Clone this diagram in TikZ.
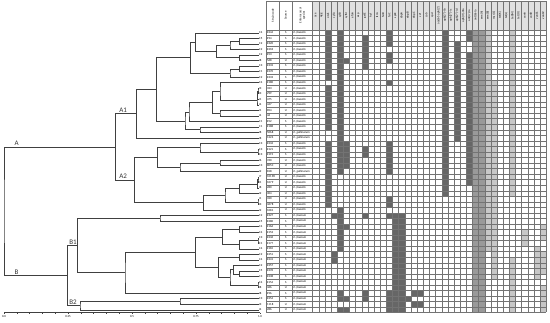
\documentclass[tikz,border=0pt]{standalone}
\usepackage{fontspec}
\setmainfont{Carlito}
\usetikzlibrary{calc}
\newcommand\mrg[4]{%
  \path let \p1=($(#3)!0.5!(#4)$) in coordinate (#1) at (#2pt,\y1);
  \draw[tree] (#3) -| (#1) |- (#4);}
\newcommand\cw{6.15}
\newcommand\blk[4]{\fill[#4] ({312.5+(#1-1)*\cw},{293-(#2-1)*5.54}) rectangle ({312.5+#1*\cw},{293-#3*5.54});}
\begin{document}
\begin{tikzpicture}[x=1pt,y=1pt,
  tree/.style={draw=black!75,line width=0.45pt},
  grid/.style={draw=black!55,line width=0.3pt},
  dk/.style={fill=black!60},
  md/.style={fill=black!40},
  lt/.style={fill=black!22},
  hdr/.style={fill=black!12},
  tiny/.style={font=\fontsize{3}{3.4}\selectfont,inner sep=0pt},
  cl/.style={font=\fontsize{7}{8}\selectfont,inner sep=0.5pt,text=black!80}]
\useasboundingbox (0,0) rectangle (550,323);
% leaves
\foreach \i in {1,...,51} \coordinate (L\i) at (258.5,{293-(\i-0.5)*5.54});
% ---- cluster A1
\mrg{m1}{239.3}{L2}{L3}
\mrg{m2}{230}{m1}{L4}
\mrg{m3}{239.3}{L5}{L6}
\mrg{m4}{216.7}{m2}{m3}
\mrg{m5}{195.7}{L1}{m4}
\mrg{m6}{239.3}{L7}{L8}
\mrg{m7}{230}{m6}{L9}
\mrg{m8}{190.7}{m5}{m7}
\mrg{z1}{258}{L11}{L12}
\mrg{z2}{257.5}{z1}{L13}
\mrg{z3}{257}{z2}{L14}
\mrg{m9}{220}{L10}{z3}
\mrg{m10}{220}{L15}{L16}
\mrg{m11}{212.3}{m9}{m10}
\mrg{m12}{189}{m11}{L17}
\mrg{m13}{200}{L18}{L19}
\mrg{m14}{185}{m12}{m13}
\mrg{m15}{156.7}{m8}{m14}
\mrg{nA1}{136.7}{m15}{L20}
% ---- cluster A2
\mrg{z4}{258}{L22}{L23}
\mrg{m16}{200}{L21}{z4}
\mrg{m17}{220}{L24}{L25}
\mrg{m18}{180}{m17}{L26}
\mrg{m19}{157.3}{m16}{m18}
\mrg{z5}{258}{L27}{L28}
\mrg{z6}{257.5}{z5}{L29}
\mrg{m20}{239.3}{z6}{L30}
\mrg{z7}{258}{L31}{L32}
\mrg{m21}{225}{m20}{z7}
\mrg{m22}{203.3}{m21}{L33}
\mrg{nA2}{134.3}{m19}{m22}
\mrg{nA}{115.7}{nA1}{nA2}
% ---- cluster B
\mrg{m23}{160}{L34}{L35}
\mrg{m24}{239.3}{L36}{L37}
\mrg{z8}{258}{L38}{L39}
\mrg{m25}{239.3}{z8}{L40}
\mrg{m26}{222.7}{m24}{m25}
\mrg{m27}{239.3}{L41}{L42}
\mrg{m28}{239.3}{L44}{L45}
\mrg{m29}{233.3}{L43}{m28}
\mrg{z9}{258}{L46}{L47}
\mrg{m30}{230}{m29}{z9}
\mrg{m31}{218.3}{m27}{m30}
\mrg{m32}{195.7}{m26}{m31}
\mrg{m33}{125}{m32}{L48}
\mrg{nB1}{77.7}{m23}{m33}
\mrg{m34}{180}{L49}{L50}
\mrg{nB2}{80}{m34}{L51}
\mrg{nB}{67.7}{nB1}{nB2}
\mrg{root}{4}{nA}{nB}
% cluster labels
\node[cl,anchor=south west] (tA) at ($(root |- nA)+(10,0.6)$) {A};
\node[cl,anchor=south west] (tB) at ($(root |- nB)+(10,0.6)$) {B};
\node[cl,anchor=south west] (tA1) at ($(nA |- nA1)+(3,0.6)$) {A1};
\node[cl,anchor=south west] (tA2) at ($(nA |- nA2)+(3,0.6)$) {A2};
\node[cl,anchor=south west] (tB1) at ($(nB |- nB1)+(1,0.6)$) {B1};
\node[cl,anchor=south west] (tB2) at ($(nB |- nB2)+(1,0.6)$) {B2};
% axis
\coordinate (ax0) at (4,10.3);
\coordinate (ax1) at (260,10.3);
\draw[tree] (ax0) -- (ax1);
\foreach \k in {0,...,20} \draw[tree,line width=0.3pt] ({4+\k*12.8},10.3) -- ({4+\k*12.8},8.8);
\foreach \k/\lab in {0/0.0,1/0.25,2/0.5,3/0.75,4/1.0}
  \node[tiny,anchor=north] (ax\k t) at ({4+\k*64},7.5) {\lab};
% table header fill
\fill[hdr] (312.5,293) rectangle ({312.5+38*\cw},322);
% data blocks
\blk{3}{1}{9}{dk}\blk{3}{11}{18}{dk}\blk{3}{21}{32}{dk}
\blk{4}{34}{34}{dk}\blk{4}{41}{42}{dk}
\blk{5}{1}{26}{dk}\blk{5}{33}{40}{dk}\blk{5}{48}{49}{dk}\blk{5}{51}{51}{dk}
\blk{6}{6}{6}{dk}\blk{6}{21}{25}{dk}\blk{6}{36}{36}{dk}\blk{6}{49}{49}{dk}\blk{6}{51}{51}{dk}
\blk{9}{2}{7}{dk}\blk{9}{22}{23}{dk}\blk{9}{34}{34}{dk}\blk{9}{48}{49}{dk}
\blk{13}{1}{3}{dk}\blk{13}{5}{6}{dk}\blk{13}{10}{10}{dk}\blk{13}{21}{26}{dk}
\blk{13}{31}{32}{dk}\blk{13}{34}{34}{dk}\blk{13}{48}{51}{dk}
\blk{14}{34}{51}{dk}\blk{15}{34}{51}{dk}
\blk{16}{49}{49}{dk}\blk{17}{48}{48}{dk}\blk{18}{48}{48}{dk}\blk{17}{50}{50}{dk}\blk{18}{50}{50}{dk}
\blk{22}{1}{30}{dk}\blk{24}{3}{20}{dk}\blk{26}{1}{2}{dk}\blk{26}{5}{28}{dk}
\blk{27}{1}{51}{md}\blk{28}{1}{51}{md}
\blk{29}{1}{40}{lt}\blk{30}{10}{45}{lt}\blk{33}{1}{30}{lt}
\blk{33}{42}{51}{lt}\blk{35}{37}{39}{lt}\blk{37}{40}{45}{lt}
\blk{38}{36}{38}{lt}\blk{38}{41}{44}{lt}\blk{38}{47}{51}{lt}
% grid
\foreach \k in {0,...,38} \draw[grid] ({312.5+\k*\cw},322) -- ({312.5+\k*\cw},10.5);
\foreach \xx in {266,279.5,292} \draw[grid] (\xx,322) -- (\xx,10.5);
\foreach \r in {0,...,51} \draw[grid] (266,{293-\r*5.54}) -- ({312.5+38*\cw},{293-\r*5.54});
\draw[grid] (266,322) -- ({312.5+38*\cw},322);
% header texts
\node[tiny,rotate=90] (h1) at (272.75,307.5) {Strain code};
\node[tiny,rotate=90] (h2) at (285.75,307.5) {Source};
\node[tiny,rotate=90,align=center] (h3) at (302.25,307.5) {Enterococcal\\species};
\foreach \g [count=\k] in {ace,agg,asa1,cylA,cylB,cylM,efaA,esp,gelE,hyl,fsrA,fsrB,fsrC,sprE,ebpA,ebpB,ebpC,ccf,cob,cpd,aac(6')-aph(2'),aph(2'')-Ib,aph(2'')-Ic,aph(2'')-Id,aph(3')-IIIa,ant(4')-Ia,ant(6)-Ia,erm(A),erm(B),msr(C),tet(K),tet(L),tet(M),tet(O),vanA,vanB,vanC1,vanC2}
  \node[tiny,rotate=90] (g\k) at ({312.5+(\k-0.5)*\cw},307.5) {\g};
% rows
\foreach \i/\t/\c/\s/\sp in {1/C4/E244/S/faecalis,2/C5/E94/S/faecalis,3/C2/E320/S/faecalis,4/C2/E218/S/faecalis,5/C2/E53/S/faecalis,6/I8/568/U/faecalis,7/C3/E332/S/faecalis,8/C1/E270/S/faecalis,9/C2/E333/S/faecalis,10/C4/E180/S/faecalis,11/I3/323/U/faecalis,12/I3/299/U/faecalis,13/I1/475/U/faecalis,14/I4/447/U/faecalis,15/I1/854/U/faecalis,16/I4/46/U/faecalis,17/C1/E52/S/faecalis,18/C1/E188/S/faecalis,19/I8/5068/U/gallinarum,20/I8/1224/U/gallinarum,21/C3/E234/S/faecalis,22/C3/E121/S/faecalis,23/C3/E119/S/faecalis,24/I6/760/U/faecalis,25/C3/805C/U/faecalis,26/I2/818/U/gallinarum,27/I7/10198/U/faecalis,28/I1/1079/U/faecalis,29/I8/280/U/faecalis,30/I2/304/U/faecalis,31/I1/320/U/faecalis,32/I3/3678/U/faecalis,33/I2/1081/U/faecalis,34/C2/E327/S/faecium,35/C5/E280/S/faecium,36/C4/E166/S/faecium,37/C4/E153/S/faecium,38/C3/E236/S/faecium,39/C1/E177/S/faecium,40/C4/E165/S/faecium,41/C2/E251/S/faecium,42/C4/E241/S/faecium,43/C2/E257/S/faecium,44/C5/E239/S/faecium,45/C3/E238/S/faecium,46/C4/E154/S/faecium,47/I8/366/U/faecium,48/I8/E96/S/faecium,49/C3/E254/S/faecium,50/I3/1118/U/faecium,51/I4/286/U/faecium}
{
  \node[tiny,anchor=west] (t\i) at (259,{293-(\i-0.5)*5.54}) {\t};
  \node[tiny,anchor=west] (c\i) at (267,{293-(\i-0.5)*5.54}) {\c};
  \node[tiny] (s\i) at (285.75,{293-(\i-0.5)*5.54}) {\s};
  \node[tiny,anchor=west] (p\i) at (293.5,{293-(\i-0.5)*5.54}) {\textit{E.~\sp}};
}
\end{tikzpicture}
\end{document}
